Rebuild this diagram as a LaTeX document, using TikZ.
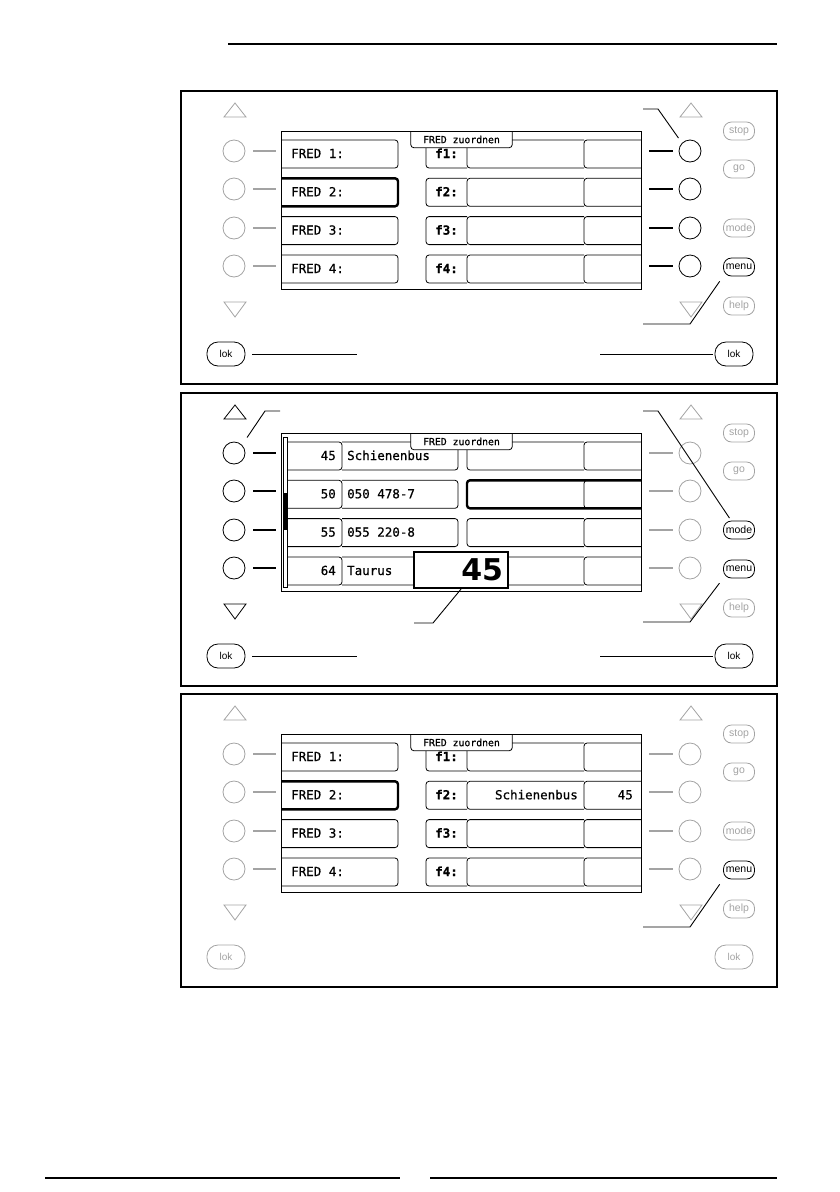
\documentclass[tikz,border=0pt]{standalone}
\usepackage{fontspec}
\setmainfont{Liberation Sans}
\newfontfamily\lcdfont{DejaVu Sans Mono}[FakeBold=0.7]
\newfontfamily\bigfont{DejaVu Sans}
\usetikzlibrary{calc, positioning}

\definecolor{offgray}{gray}{0.64}

\tikzset{
  panel/.style={draw, line width=1.3pt},
  screen/.style={draw, line width=0.9pt, minimum width=360pt, minimum height=158pt, inner sep=0pt},
  key/.style={circle, draw, line width=0.8pt, minimum size=22pt, inner sep=0pt},
  keyline/.style={line width=2pt},
  softkey/.style={draw, line width=0.8pt, rounded corners=8pt, minimum width=31pt, minimum height=18pt, inner sep=0pt, font=\fontsize{10.5}{10.5}\selectfont},
  lokkey/.style={draw, line width=0.8pt, rounded corners=11pt, minimum width=38pt, minimum height=24pt, inner sep=0pt, font=\fontsize{10}{10}\selectfont},
  cell/.style={line width=0.8pt, rounded corners=3pt},
  selcell/.style={line width=2.4pt, rounded corners=3pt},
  lcd/.style={inner sep=0pt, font=\lcdfont\fontsize{12.5}{12.5}\selectfont},
  flabel/.style={inner sep=0pt, font=\lcdfont\bfseries\fontsize{12.5}{12.5}\selectfont},
  tab/.style={fill=white, minimum width=101pt, minimum height=16pt, inner sep=0pt, font=\lcdfont\fontsize{9.8}{9.8}\selectfont},
  bignum/.style={draw, fill=white, line width=2.2pt, text width=84pt, align=right, minimum height=36pt, inner xsep=5pt, inner ysep=0pt, font=\bigfont\bfseries\fontsize{30}{30}\selectfont},
  callout/.style={line width=0.9pt},
  pagerule/.style={line width=2.6pt},
}

\begin{document}
\begin{tikzpicture}[x=1pt, y=-1pt]
\useasboundingbox (0,0) rectangle (840,1192);

% page rules
\coordinate (headl) at (228,44);
\coordinate (headr) at (777,44);
\draw[pagerule] (headl) -- (headr);
\coordinate (footl) at (45,1178);
\coordinate (footm) at (400,1178);
\coordinate (footn) at (430,1178);
\coordinate (footr) at (777,1178);
\draw[pagerule] (footl) -- (footm);
\draw[pagerule] (footn) -- (footr);

% the three panels
\foreach \p/\dy/\lc/\rc/\mc/\kc in {1/0/offgray/black/offgray/black, 2/302/black/offgray/black/black, 3/603/offgray/offgray/offgray/offgray}{
  \begin{scope}[shift={(0,\dy)}]
    \draw[panel] (181,91) rectangle (777,384);
    \node[screen] (s\p) at (461,210) {};
    \draw[\lc, line width=0.8pt] (224,117) -- (246,117) -- (235,103) -- cycle;
    \draw[\lc, line width=0.8pt] (224,302) -- (246,302) -- (235,317) -- cycle;
    \draw[offgray, line width=0.8pt] (680,117) -- (702,117) -- (691,103) -- cycle;
    \draw[offgray, line width=0.8pt] (680,302) -- (702,302) -- (691,317) -- cycle;
    \foreach \r/\y in {1/151,2/189,3/228,4/266}{
      \node[key, draw=\lc] (l\p-\r) at (234,\y) {};
      \draw[keyline, \lc] ([xshift=8pt]l\p-\r.east) -- ([xshift=31pt]l\p-\r.east);
      \node[key, draw=\rc] (r\p-\r) at (690,\y) {};
      \draw[keyline, \rc] ([xshift=-6pt]r\p-\r.west) -- ([xshift=-30pt]r\p-\r.west);
    }
    \node[softkey, offgray] (stop\p) at (739,131) {stop};
    \node[softkey, offgray] (go\p) at (739,169) {go};
    \node[softkey, \mc] (mode\p) at (739,228) {mode};
    \node[softkey] (menu\p) at (739,267) {menu};
    \node[softkey, offgray] (help\p) at (739,306) {help};
    \node[lokkey, \kc] (lokl\p) at (226,354) {lok};
    \node[lokkey, \kc] (lokr\p) at (734,354) {lok};
  \end{scope}
}

% FRED rows
\foreach \p/\dy in {1/0,3/603}{
  \begin{scope}[shift={(0,\dy)}]
    \foreach \r/\ty in {1/140,2/178.3,3/216.6,4/255}{
      \draw[cell] (281,\ty) -- (398,\ty) -- (398,\ty+28) -- (281,\ty+28);
      \node[lcd, anchor=base west] (fred\p-\r) at (291,\ty+18) {FRED \r:};
      \draw[cell] (467,\ty) -- (426,\ty) -- (426,\ty+28) -- (467,\ty+28);
      \draw[cell] (584,\ty) -- (467,\ty) -- (467,\ty+28) -- (584,\ty+28);
      \draw[cell] (641,\ty) -- (584,\ty) -- (584,\ty+28) -- (641,\ty+28);
      \node[flabel, anchor=base] (f\p-\r) at (446.5,\ty+18) {f\r:};
    }
    \draw[selcell] (281,178.3) -- (398,178.3) -- (398,206.3) -- (281,206.3);
  \end{scope}
}

% loco list
\begin{scope}[shift={(0,302)}]
  \foreach \r/\ty/\nr/\lname in {1/140/45/Schienenbus, 2/178.3/50/050 478-7, 3/216.6/55/055 220-8, 4/255/64/Taurus}{
    \draw[cell] (287,\ty) -- (342,\ty) -- (342,\ty+28) -- (287,\ty+28);
    \draw[cell] (342,\ty) -- (458,\ty) -- (458,\ty+28) -- (342,\ty+28);
    \node[lcd, anchor=base east] (nr\r) at (336,\ty+18) {\nr};
    \node[lcd, anchor=base west] (name\r) at (347,\ty+18) {\lname};
    \draw[cell] (584,\ty) -- (467,\ty) -- (467,\ty+28) -- (584,\ty+28);
    \draw[cell] (641,\ty) -- (584,\ty) -- (584,\ty+28) -- (641,\ty+28);
  }
  \draw[selcell] (641,178.3) -- (467,178.3) -- (467,206.3) -- (641,206.3);
  \draw[line width=0.6pt] (283,135) rectangle (287,285);
  \fill (283,191) rectangle (287,228);
\end{scope}

% assigned loco
\begin{scope}[shift={(0,603)}]
  \node[lcd, anchor=base east] (fn3) at (578,196.3) {Schienenbus};
  \node[lcd, anchor=base east] (fa3) at (633,196.3) {45};
\end{scope}

% title tabs
\foreach \p/\dy in {1/0,2/302,3/603}{
  \begin{scope}[shift={(0,\dy)}]
    \node[tab] (tab\p) at (461.5,139.5) {FRED zuordnen};
    \draw[cell] (tab\p.north west) -- (tab\p.south west) -- (tab\p.south east) -- (tab\p.north east);
  \end{scope}
}

\node[bignum] (num2) at (461,570) {45};

% callouts
\foreach \p/\dy/\my in {1/0/324, 2/302/320, 3/603/324}{
  \begin{scope}[shift={(0,\dy)}]
    \coordinate (mf\p) at (643,\my);
    \coordinate (mb\p) at (690,\my);
    \draw[callout, shorten >=6pt] (mf\p) -- (mb\p) -- (menu\p.south west);
  \end{scope}
}
\foreach \p/\dy in {1/0,2/302}{
  \begin{scope}[shift={(0,\dy)}]
    \coordinate (lokle\p) at (357,354);
    \coordinate (lokre\p) at (600,354);
    \draw[callout] ([xshift=7pt]lokl\p.east) -- (lokle\p);
    \draw[callout] (lokre\p) -- ([xshift=-2pt]lokr\p.west);
  \end{scope}
}
\coordinate (kf1) at (643,109);
\coordinate (kb1) at (658,109);
\draw[callout, shorten >=6pt] (kf1) -- (kb1) -- (r1-1.north west);
\coordinate (lf2) at (280,411);
\coordinate (lb2) at (265,411);
\draw[callout, shorten >=9pt] (lf2) -- (lb2) -- (l2-1.north east);
\coordinate (df2) at (643,411);
\coordinate (db2) at (658,411);
\draw[callout, shorten >=3pt] (df2) -- (db2) -- (mode2.130);
\coordinate (nb2) at (433,623);
\coordinate (nf2) at (414,623);
\draw[callout] (num2.south) -- (nb2) -- (nf2);
\end{tikzpicture}
\end{document}
